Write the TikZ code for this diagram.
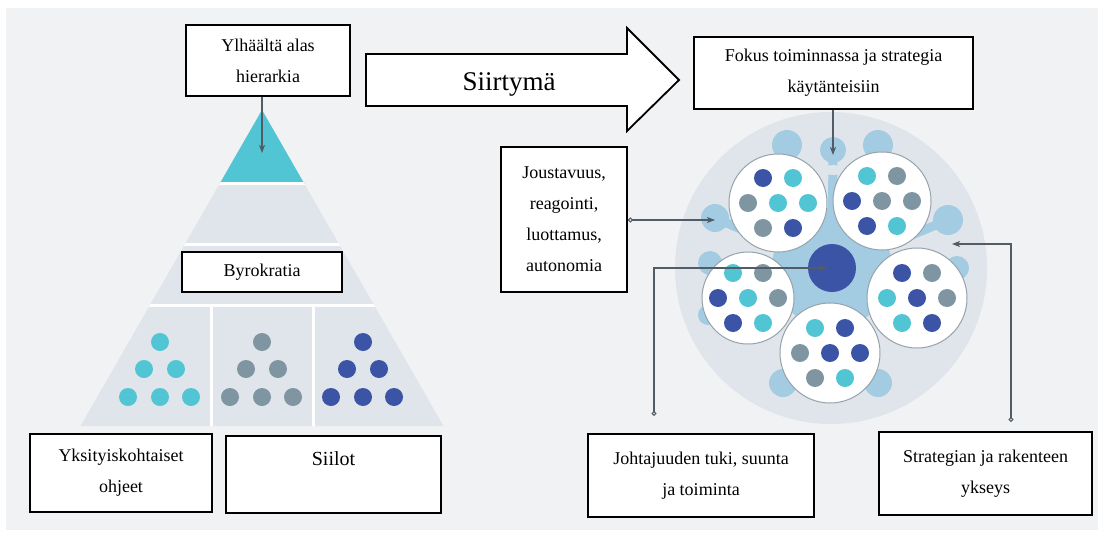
\documentclass[tikz,border=0pt]{standalone}
\usepackage{fontspec}
\setmainfont{Liberation Serif}
\usepackage{tikz}
\usetikzlibrary{arrows.meta,positioning,calc}
\definecolor{BgGray}{RGB}{241,242,244}
\definecolor{BandGray}{RGB}{224,229,236}
\definecolor{DotCyan}{RGB}{82,197,212}
\definecolor{DotGray}{RGB}{127,150,162}
\definecolor{DotBlue}{RGB}{60,84,165}
\definecolor{NetBlue}{RGB}{163,204,226}
\definecolor{LeadGray}{RGB}{82,92,102}
\definecolor{RimGray}{RGB}{150,162,170}
\tikzset{
  tbox/.style={draw=black,line width=1.8pt,fill=white,align=center,inner sep=2pt,
               font=\fontsize{18}{31}\selectfont},
  lead/.style={-{Stealth[length=8pt,width=6pt,inset=2pt]},line width=1.1pt,LeadGray},
  dotlead/.style={lead,{Circle[open,length=5pt,width=5pt]}-{Stealth[length=8pt,width=6pt,inset=2pt]}},
  team/.style={fill=white,draw=RimGray,line width=1pt},
  hubdot/.style={circle,fill=DotBlue,minimum size=48pt,inner sep=0pt},
}
\begin{document}
\begin{tikzpicture}[x=1pt,y=-1pt]
  \useasboundingbox (0,0) rectangle (1098,533);
  \fill[white] (0,0) rectangle (1098,533);
  \fill[BgGray] (6,8) rectangle (1098,530);

  % pyramid
  \begin{scope}
    \clip (262,110) -- (443.5,426) -- (80.5,426) -- cycle;
    \fill[BandGray] (0,100) rectangle (500,430);
    \fill[DotCyan] (0,100) rectangle (500,183.5);
    \draw[white,line width=3pt] (0,183.5) -- (500,183.5) (0,244.5) -- (500,244.5)
      (0,305.5) -- (500,305.5) (211.5,305) -- (211.5,430) (313,305) -- (313,430);
  \end{scope}
  \foreach \cx/\col in {160/DotCyan,262/DotGray,363/DotBlue}
    \foreach \dx/\dy in {0/0,-16/27,16/27,-32/55,0/55,31/55}
      \fill[\col] (\cx+\dx,342+\dy) circle[radius=9];

  % team cluster
  \fill[BandGray] (831,268) circle[radius=156];
  \fill[NetBlue] (832,268) circle[radius=60];
  \foreach \bx/\by/\br in {787/145/15,833/150/13,878/145/15,715/218/14,710/263/12,
                           708/315/10,948/220/15,957/268/12,783/383/14,878/383/14}{
    \draw[NetBlue,line width=9pt,line cap=round] (832,268) -- (\bx,\by);
    \fill[NetBlue] (\bx,\by) circle[radius=\br];
  }
  \fill[BandGray] (833,170) ellipse[x radius=9,y radius=5];
  \foreach \cx/\cy/\r/\ca/\cb/\cc/\cd/\ce/\cf/\cg in {
      778/203/49/DotBlue/DotCyan/DotGray/DotCyan/DotCyan/DotGray/DotBlue,
      882/201/49/DotCyan/DotGray/DotBlue/DotGray/DotGray/DotBlue/DotCyan,
      748/298/46/DotCyan/DotGray/DotBlue/DotCyan/DotGray/DotBlue/DotCyan,
      917/298/50/DotBlue/DotGray/DotCyan/DotBlue/DotGray/DotCyan/DotBlue,
      830/353/50/DotCyan/DotBlue/DotGray/DotBlue/DotBlue/DotGray/DotCyan}{
    \filldraw[team] (\cx,\cy) circle[radius=\r];
    \fill[\ca] (\cx-15,\cy-25) circle[radius=9];
    \fill[\cb] (\cx+15,\cy-25) circle[radius=9];
    \fill[\cc] (\cx-30,\cy) circle[radius=9];
    \fill[\cd] (\cx,\cy) circle[radius=9];
    \fill[\ce] (\cx+30,\cy) circle[radius=9];
    \fill[\cf] (\cx-15,\cy+25) circle[radius=9];
    \fill[\cg] (\cx+15,\cy+25) circle[radius=9];
  }
  \node[hubdot] (hub) at (832,268) {};

  % big arrow
  \draw[line width=1.8pt,fill=white] (366,54) -- (627,54) -- (627,28) -- (679,80)
    -- (627,131) -- (627,106) -- (366,106) -- cycle;
  \node[font=\fontsize{27}{30}\selectfont,anchor=base] (shift) at (509,90) {Siirtymä};

  % boxes
  \node[tbox,minimum width=164pt,minimum height=71pt] (ylh) at (268,60.5) {Ylhäältä alas\\hierarkia};
  \node[tbox,minimum width=160pt,minimum height=40pt] (byro) at (262,272) {Byrokratia};
  \node[tbox,minimum width=182pt,minimum height=78pt] (yksi) at (121,473) {Yksityiskohtaiset\\ohjeet};
  \node[tbox,minimum width=215pt,minimum height=77pt,font=\fontsize{20}{31}\selectfont]
    (siil) at (333.5,474.5) {Siilot\\\mbox{}};
  \node[tbox,minimum width=279pt,minimum height=72pt] (fokus) at (833.5,73)
    {Fokus toiminnassa ja strategia\\käytänteisiin};
  \node[tbox,minimum width=126pt,minimum height=145pt] (jous) at (564,219.5)
    {Joustavuus,\\reagointi,\\luottamus,\\autonomia};
  \node[tbox,minimum width=226pt,minimum height=83pt] (johta) at (701,475.5)
    {Johtajuuden tuki, suunta\\ja toiminta};
  \node[tbox,minimum width=213pt,minimum height=83pt] (strat) at (985.5,473.5)
    {Strategian ja rakenteen\\ykseys};

  % leaders
  \coordinate (toptip) at (262,153);
  \coordinate (splash) at (833,155);
  \coordinate (lblob) at (715,220);
  \coordinate (rneck) at (952,244);
  \coordinate (jfoot) at (654,416);
  \coordinate (sfoot) at (1011,422);
  \draw[lead] (ylh.south -| toptip) -- (toptip);
  \draw[lead] (fokus.south -| splash) -- (splash);
  \draw[dotlead] (jous.east |- lblob) -- (lblob);
  \draw[dotlead] (jfoot) |- ([xshift=-5pt]hub.center);
  \draw[dotlead] (sfoot) |- (rneck);
\end{tikzpicture}
\end{document}
